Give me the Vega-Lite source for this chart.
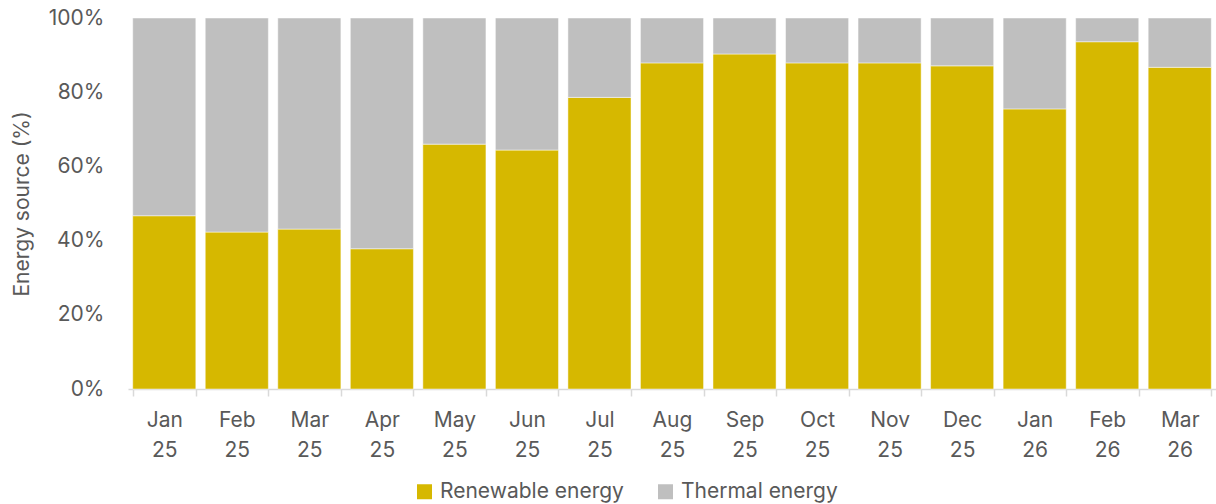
{
  "$schema": "https://vega.github.io/schema/vega-lite/v6.json",
  "autosize": {"type": "none"},
  "width": 1088,
  "height": 371,
  "padding": {"left": 128, "top": 18, "right": 0, "bottom": 115},
  "background": "white",
  "config": {
    "view": {"stroke": null},
    "font": "Inter",
    "axis": {"labelColor": "#595959", "titleColor": "#595959", "labelFont": "Inter", "titleFont": "Inter"},
    "legend": {"labelColor": "#595959", "labelFont": "Inter"}
  },
  "data": {
    "values": [
      {"month": "Jan 25", "series": "Renewable energy", "value": 46.7},
      {"month": "Jan 25", "series": "Thermal energy", "value": 53.3},
      {"month": "Feb 25", "series": "Renewable energy", "value": 42.3},
      {"month": "Feb 25", "series": "Thermal energy", "value": 57.7},
      {"month": "Mar 25", "series": "Renewable energy", "value": 43.1},
      {"month": "Mar 25", "series": "Thermal energy", "value": 56.9},
      {"month": "Apr 25", "series": "Renewable energy", "value": 37.8},
      {"month": "Apr 25", "series": "Thermal energy", "value": 62.2},
      {"month": "May 25", "series": "Renewable energy", "value": 66.0},
      {"month": "May 25", "series": "Thermal energy", "value": 34.0},
      {"month": "Jun 25", "series": "Renewable energy", "value": 64.4},
      {"month": "Jun 25", "series": "Thermal energy", "value": 35.6},
      {"month": "Jul 25", "series": "Renewable energy", "value": 78.6},
      {"month": "Jul 25", "series": "Thermal energy", "value": 21.4},
      {"month": "Aug 25", "series": "Renewable energy", "value": 87.9},
      {"month": "Aug 25", "series": "Thermal energy", "value": 12.1},
      {"month": "Sep 25", "series": "Renewable energy", "value": 90.3},
      {"month": "Sep 25", "series": "Thermal energy", "value": 9.7},
      {"month": "Oct 25", "series": "Renewable energy", "value": 87.9},
      {"month": "Oct 25", "series": "Thermal energy", "value": 12.1},
      {"month": "Nov 25", "series": "Renewable energy", "value": 87.9},
      {"month": "Nov 25", "series": "Thermal energy", "value": 12.1},
      {"month": "Dec 25", "series": "Renewable energy", "value": 87.1},
      {"month": "Dec 25", "series": "Thermal energy", "value": 12.9},
      {"month": "Jan 26", "series": "Renewable energy", "value": 75.5},
      {"month": "Jan 26", "series": "Thermal energy", "value": 24.5},
      {"month": "Feb 26", "series": "Renewable energy", "value": 93.6},
      {"month": "Feb 26", "series": "Thermal energy", "value": 6.4},
      {"month": "Mar 26", "series": "Renewable energy", "value": 86.7},
      {"month": "Mar 26", "series": "Thermal energy", "value": 13.3}
    ]
  },
  "mark": {"type": "bar", "stroke": "#ffffff", "strokeWidth": 0.8, "strokeOpacity": 0.6},
  "encoding": {
    "x": {
      "field": "month",
      "type": "nominal",
      "sort": null,
      "scale": {"paddingInner": 0.13, "paddingOuter": 0.065},
      "axis": {
        "title": null,
        "labelAngle": 0,
        "labelExpr": "split(datum.label, ' ')",
        "labelLineHeight": 30,
        "labelFontSize": 21,
        "labelPadding": 13,
        "tickBand": "extent",
        "tickColor": "#D9D9D9",
        "tickSize": 7,
        "tickWidth": 1.5,
        "domainColor": "#D9D9D9",
        "domainWidth": 1.5
      }
    },
    "y": {
      "field": "value",
      "type": "quantitative",
      "stack": "normalize",
      "scale": {"domain": [0, 1]},
      "axis": {
        "title": "Energy source (%)",
        "titleFontSize": 21,
        "titleFontWeight": "normal",
        "titlePadding": 16,
        "format": ".0%",
        "values": [0, 0.2, 0.4, 0.6, 0.8, 1],
        "labelFontSize": 21,
        "labelPadding": 24,
        "grid": false,
        "domain": false,
        "ticks": false
      }
    },
    "color": {
      "field": "series",
      "type": "nominal",
      "scale": {"domain": ["Renewable energy", "Thermal energy"], "range": ["#D6B800", "#BFBFBF"]},
      "legend": {
        "title": null,
        "orient": "none",
        "legendX": 286,
        "legendY": 463,
        "direction": "horizontal",
        "symbolType": "square",
        "symbolSize": 225,
        "symbolStrokeWidth": 0,
        "labelFontSize": 21,
        "labelLimit": 400,
        "columnPadding": 31,
        "labelOffset": 5
      }
    },
    "order": {"field": "series", "sort": "ascending"}
  }
}
